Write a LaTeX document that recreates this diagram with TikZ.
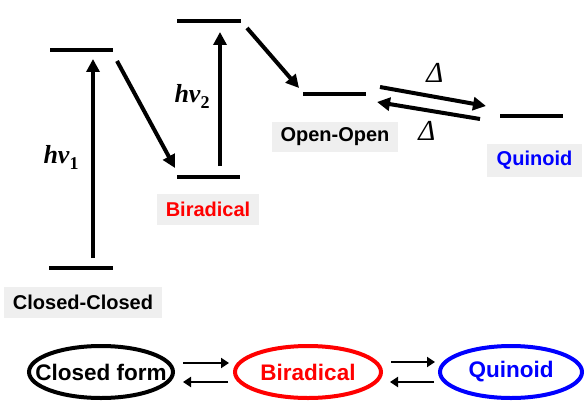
\documentclass[tikz,border=0pt]{standalone}
\usepackage{fontspec}
\setmainfont{Liberation Sans}
\newfontfamily\serifit{Liberation Serif}
\usetikzlibrary{arrows.meta,shapes.geometric}
\definecolor{boxgrey}{HTML}{EFEFEF}
\definecolor{myred}{HTML}{FF0000}
\definecolor{myblue}{HTML}{0000FF}
\newcommand{\hvsub}[1]{\raisebox{-6pt}{\fontsize{18}{19}\selectfont\upshape\bfseries #1}}
\tikzset{
  level/.style={line width=4pt},
  bigarrow/.style={line width=4pt,-{Triangle[length=13pt,width=13pt]}},
  smallarrow/.style={line width=2.8pt,-{Triangle[length=8pt,width=10pt]}},
  statelabel/.style={fill=boxgrey,inner sep=0pt,font=\fontsize{20}{24}\selectfont\bfseries},
  formtext/.style={inner sep=0pt,font=\fontsize{22.5}{26}\selectfont\bfseries},
  formring/.style={line width=4pt},
  hvlabel/.style={font=\serifit\fontsize{26}{30}\selectfont},
  deltalabel/.style={font=\serifit\fontsize{29}{32}\selectfont\itshape}
}
\begin{document}
\begin{tikzpicture}[x=1pt,y=-1pt]
\useasboundingbox (0,0) rectangle (585,401);
% energy levels
\draw[level] (50,50) -- (113,50);
\draw[level] (49,268) -- (113,268);
\draw[level] (177,177) -- (240,177);
\draw[level] (177,21) -- (241,21);
\draw[level] (303,94) -- (366,94);
\draw[level] (500,116) -- (563,116);
% arrow end points
\coordinate (a1s) at (93,258);
\coordinate (a1e) at (93,59);
\coordinate (d1s) at (117,61);
\coordinate (d1e) at (175,168);
\coordinate (a2s) at (220,166);
\coordinate (a2e) at (220,32);
\coordinate (d2s) at (247,28);
\coordinate (d2e) at (299,88);
\coordinate (efs) at (380,87);
\coordinate (efe) at (486,106);
\coordinate (ebs) at (480,119);
\coordinate (ebe) at (377,102);
\draw[bigarrow] (a1s) -- (a1e);
\draw[bigarrow] (d1s) -- (d1e);
\draw[bigarrow] (a2s) -- (a2e);
\draw[bigarrow] (d2s) -- (d2e);
\draw[bigarrow] (efs) -- (efe);
\draw[bigarrow] (ebs) -- (ebe);
% labels
\node[hvlabel] (hv1) at (61,157) {\bfseries\itshape hν\hvsub{1}};
\node[hvlabel] (hv2) at (192,96) {\bfseries\itshape hν\hvsub{2}};
\node[deltalabel] (dt) at (435,73) {Δ};
\node[deltalabel] (db) at (427,131) {Δ};
\node[statelabel,minimum width=158pt,minimum height=31pt] (cc) at (83,302.5) {Closed-Closed};
\node[statelabel,minimum width=102pt,minimum height=31pt,text=myred] (br) at (208,209.5) {Biradical};
\node[statelabel,minimum width=126pt,minimum height=30pt] (oo) at (335,137) {Open-Open};
\node[statelabel,minimum width=95pt,minimum height=33pt,text=myblue] (qn) at (534.5,160.5) {Quinoid};
% bottom scheme
\node[formtext] (cf) at (101,372) {Closed form};
\node[formtext,text=myred] (bf) at (308,372) {Biradical};
\node[formtext,text=myblue] (qf) at (511,372) {Quinoid};
\draw[formring] (cf.center) ellipse [x radius=72pt, y radius=26pt];
\draw[formring,myred] (bf.center) ellipse [x radius=73pt, y radius=26pt];
\draw[formring,myblue] (qf.center) ellipse [x radius=71pt, y radius=26pt];
\coordinate (b1s) at (183,363);
\coordinate (b1e) at (229,363);
\coordinate (b2s) at (228,382);
\coordinate (b2e) at (183,382);
\coordinate (b3s) at (391,362);
\coordinate (b3e) at (435,362);
\coordinate (b4s) at (434,382);
\coordinate (b4e) at (390,382);
\draw[smallarrow] (b1s) -- (b1e);
\draw[smallarrow] (b2s) -- (b2e);
\draw[smallarrow] (b3s) -- (b3e);
\draw[smallarrow] (b4s) -- (b4e);
\end{tikzpicture}
\end{document}
